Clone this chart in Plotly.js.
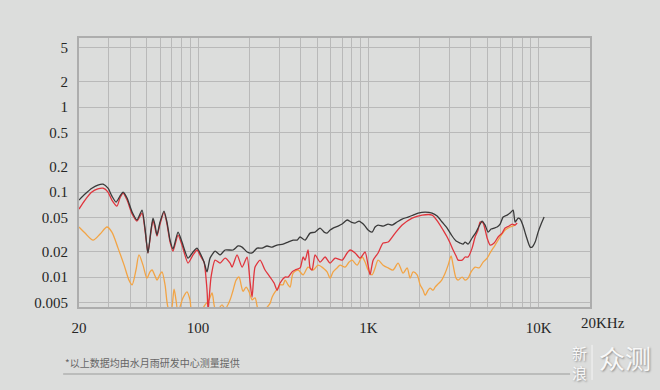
<!DOCTYPE html>
<html>
<head>
<meta charset="utf-8">
<script src="https://cdn.plot.ly/plotly-3.0.1.min.js"></script>
<style>
  html, body { margin: 0; padding: 0; background: #dcdddc; }
  #chart { width: 660px; height: 390px; }
</style>
</head>
<body>
<div id="chart"></div>
<script>
// ---- data (frequency in Hz, level) ----
const blackFreq = [20,21.7,23.8,25.8,27.7,29.6,31.2,33.0,34.8,36.3,38.3,41.0,43.8,46.9,48.8,50.8,52.9,54.4,55.9,57.4,59.8,63.1,65.7,68.5,71.3,76.3,80.5,87.3,93.4,98.6,104.1,108.4,112.9,117.6,125.9,134.6,144.1,160.6,171.8,181.3,194.0,207.5,222.1,237.6,254.2,272.0,291.0,315.6,337.7,361.4,381.5,397.2,424.9,454.6,486.4,520.5,549.5,572.2,595.9,620.6,664.0,701.0,750.0,791.5,835.5,882.0,918.4,956.4,995.9,1051,1095,1140,1220,1306,1378,1474,1578,1711,1830,1958,2153,2366,2532,2709,2899,3101,3273,3455,3597,3697,3849,4064,4289,4467,4651,4844,5045,5254,5472,5698,5934,6180,6523,6793,7075,7269,7570,7778,8100,8433,8903,9147,9526,9919,10330,10757];
const blackVal = [0.0805,0.0947,0.111,0.121,0.124,0.111,0.0897,0.0763,0.0897,0.100,0.0850,0.0582,0.0469,0.0614,0.0377,0.0192,0.0357,0.0494,0.0409,0.0312,0.0444,0.0598,0.0444,0.0272,0.0214,0.0338,0.0258,0.0167,0.0197,0.0219,0.0182,0.0150,0.0115,0.0167,0.0202,0.0182,0.0208,0.0208,0.0232,0.0225,0.0197,0.0192,0.0219,0.0219,0.0232,0.0225,0.0238,0.0244,0.0258,0.0272,0.0272,0.0296,0.0272,0.0329,0.0338,0.0377,0.0338,0.0329,0.0357,0.0377,0.0398,0.0420,0.0469,0.0444,0.0432,0.0456,0.0432,0.0398,0.0357,0.0338,0.0388,0.0409,0.0398,0.0420,0.0409,0.0444,0.0481,0.0508,0.0536,0.0566,0.0582,0.0566,0.0522,0.0444,0.0377,0.0304,0.0265,0.0251,0.0244,0.0258,0.0244,0.0288,0.0338,0.0398,0.0456,0.0409,0.0338,0.0367,0.0377,0.0388,0.0420,0.0508,0.0536,0.0566,0.0614,0.0444,0.0494,0.0481,0.0398,0.0304,0.0225,0.0225,0.0258,0.0338,0.0420,0.0508];

const redFreq = [20,21.7,23.8,25.8,27.7,29.6,31.2,33.4,34.8,36.3,38.3,41.0,43.8,46.9,48.8,50.8,52.9,54.4,55.9,57.4,59.8,63.1,65.7,68.5,71.3,76.3,80.5,87.3,93.4,98.6,104.1,108.4,112.9,114.5,116.0,119.2,125.9,134.6,144.1,154.2,158.4,169.4,181.3,194.0,202.0,207.5,216.1,231.3,247.4,264.7,279.5,291.0,303.0,324.3,337.7,356.5,371.3,397.2,413.7,424.9,442.5,454.6,467.1,486.4,520.5,556.9,595.9,637.6,701.0,750.0,780.9,835.5,894.0,956.4,995.9,1023,1066,1140,1220,1306,1436,1578,1806,2067,2366,2566,2746,2899,3018,3143,3273,3363,3550,3697,3849,4064,4231,4406,4527,4715,4977,5183,5472,5776,6097,6349,6702,6980,7269,7468];
const redVal = [0.0631,0.0805,0.100,0.109,0.111,0.100,0.0805,0.0684,0.0850,0.0973,0.0805,0.0551,0.0456,0.0566,0.0357,0.0192,0.0338,0.0469,0.0377,0.0304,0.0420,0.0582,0.0420,0.0258,0.0202,0.0312,0.0238,0.0146,0.0182,0.0208,0.0172,0.0150,0.0070,0.0040,0.0054,0.0100,0.0158,0.0146,0.0167,0.0146,0.0131,0.0182,0.0131,0.0172,0.0087,0.0058,0.0131,0.0158,0.0121,0.0100,0.0085,0.0070,0.0085,0.0100,0.0100,0.0115,0.0121,0.0128,0.0172,0.0158,0.0208,0.0128,0.0121,0.0182,0.0150,0.0172,0.0146,0.0167,0.0158,0.0192,0.0208,0.0192,0.0167,0.0197,0.0138,0.0106,0.0158,0.0192,0.0251,0.0258,0.0329,0.0409,0.0494,0.0536,0.0536,0.0444,0.0357,0.0296,0.0251,0.0208,0.0177,0.0158,0.0158,0.0172,0.0172,0.0219,0.0296,0.0357,0.0444,0.0432,0.0288,0.0238,0.0251,0.0296,0.0329,0.0377,0.0398,0.0420,0.0409,0.0432];

const orangeFreq = [20,21.7,24.2,26.6,29.2,31.2,33.9,36.8,39.3,41.0,43.2,45.0,47.5,50.1,52.2,53.7,55.9,57.4,59.8,61.4,64.0,66.6,69.4,72.3,74.2,76.3,81.6,86.1,89.7,92.2,102.7,109.9,116.0,120.8,124.2,127.6,138.3,144.1,154.2,160.6,167.2,174.1,178.9,183.8,191.4,199.3,207.5,216.1,225.1,240.8,254.2,264.7,272.0,283.3,294.9,303.0,315.6,324.3,337.7,347.0,361.4,386.7,413.7,442.5,473.5,506.6,542.0,572.2,595.9,620.6,655.1,682.3,730.0,770.5,802.3,858.4,918.4,956.4,995.9,1051,1095,1140,1220,1306,1396,1494,1599,1688,1758,1830,1932,2012,2095,2153,2242,2303,2398,2464,2566,2673,2821,2938,3059,3143,3273,3363,3550,3697,3849,4009,4231,4467,4715,4977,5183,5546,5934,6349,6793,7269];
const orangeVal = [0.0388,0.0329,0.0272,0.0321,0.0388,0.0338,0.0219,0.0138,0.0092,0.0081,0.0121,0.0182,0.0138,0.0097,0.0115,0.0121,0.0103,0.0092,0.0108,0.0115,0.0081,0.0044,0.0039,0.0072,0.0054,0.0039,0.0057,0.0067,0.0054,0.0039,0.0039,0.0047,0.0054,0.0065,0.0047,0.0039,0.0047,0.0042,0.0054,0.0070,0.0092,0.0100,0.0081,0.0068,0.0076,0.0067,0.0054,0.0057,0.0042,0.0039,0.0044,0.0049,0.0058,0.0067,0.0074,0.0081,0.0081,0.0092,0.0081,0.0076,0.0111,0.0121,0.0106,0.0131,0.0121,0.0138,0.0128,0.0115,0.0097,0.0115,0.0128,0.0138,0.0131,0.0150,0.0158,0.0138,0.0172,0.0150,0.0121,0.0106,0.0128,0.0158,0.0138,0.0128,0.0121,0.0146,0.0111,0.0128,0.0097,0.0115,0.0106,0.0081,0.0070,0.0061,0.0070,0.0074,0.0070,0.0076,0.0083,0.0090,0.0111,0.0138,0.0177,0.0138,0.0097,0.0092,0.0100,0.0092,0.0097,0.0115,0.0131,0.0128,0.0150,0.0167,0.0192,0.0238,0.0296,0.0357,0.0388,0.0409];

const xGridVals = [20,30,40,50,60,70,80,90,100,200,300,400,500,600,700,800,900,1000,2000,3000,4000,5000,6000,7000,8000,9000,10000,20000];
const xTickText = ['20','','','','','','','','100','','','','','','','','','1K','','','','','','','','','10K',''];
const yTickVals = [0.005,0.01,0.02,0.05,0.1,0.2,0.5,1,2,5];
const yTickText = ['0.005','0.01','0.02','0.05','0.1','0.2','0.5','1','2','5'];
const footnote = '*以上数据均由水月雨研发中心测量提供';

const lw = 1.3;
const traces = [
  {x: orangeFreq, y: orangeVal, mode: 'lines', line: {color: '#f2a445', width: lw, shape: 'spline', smoothing: 0.8}},
  {x: redFreq, y: redVal, mode: 'lines', line: {color: '#e0353d', width: lw, shape: 'spline', smoothing: 0.6}},
  {x: blackFreq, y: blackVal, mode: 'lines', line: {color: '#3a3a3a', width: lw, shape: 'spline', smoothing: 0.6}}
];

const tickFont = {family: '"Liberation Serif", "DejaVu Serif", serif', size: 15, color: '#262626'};
const wmFont = (s) => ({family: '"Noto Sans CJK SC", sans-serif', size: s, color: '#f8f8f8', shadow: '1px 1px 2px #8c8c8c'});

const layout = {
  width: 660, height: 390,
  margin: {l: 79, r: 70, t: 38, b: 83},
  paper_bgcolor: '#dcdddc',
  plot_bgcolor: '#dcdddc',
  showlegend: false,
  xaxis: {
    type: 'log',
    range: [Math.log10(20), Math.log10(20000)],
    tickmode: 'array', tickvals: xGridVals, ticktext: xTickText,
    showgrid: true, gridcolor: '#b9b9b9', gridwidth: 1,
    showline: true, mirror: true, linecolor: '#adadad', linewidth: 2,
    zeroline: false, ticks: '', ticklabelstandoff: 6,
    tickfont: tickFont
  },
  yaxis: {
    type: 'log',
    range: [Math.log10(0.00444), Math.log10(6.5)],
    tickmode: 'array', tickvals: yTickVals, ticktext: yTickText,
    showgrid: true, gridcolor: '#b9b9b9', gridwidth: 1,
    showline: true, mirror: true, linecolor: '#adadad', linewidth: 2,
    zeroline: false, ticks: '', ticklabelstandoff: 6,
    tickfont: tickFont
  },
  annotations: [
    {text: '20KHz', xref: 'x', yref: 'paper', x: Math.log10(20000), y: 0,
     xanchor: 'left', yanchor: 'top', xshift: -11, yshift: -6, showarrow: false, font: tickFont},
    {text: footnote, xref: 'paper', yref: 'paper', x: -0.031, y: -0.205,
     xanchor: 'left', yanchor: 'middle', showarrow: false,
     font: {family: '"Noto Sans CJK SC", sans-serif', size: 10, color: '#666666'}},
    {text: '新', xref: 'paper', yref: 'paper', x: 0.980, y: -0.171,
     xanchor: 'center', yanchor: 'middle', showarrow: false, font: wmFont(15)},
    {text: '浪', xref: 'paper', yref: 'paper', x: 0.980, y: -0.242,
     xanchor: 'center', yanchor: 'middle', showarrow: false, font: wmFont(15)},
    {text: '众测', xref: 'paper', yref: 'paper', x: 1.014, y: -0.186,
     xanchor: 'left', yanchor: 'middle', showarrow: false, font: wmFont(26)}
  ],
  shapes: [
    {type: 'line', xref: 'paper', yref: 'paper', x0: -0.031, x1: 0.961, y0: -0.249, y1: -0.249,
     line: {color: '#b0b0b0', width: 1.5}},
    {type: 'line', xref: 'paper', yref: 'paper', x0: 1.004, x1: 1.004, y0: -0.141, y1: -0.271,
     line: {color: '#f4f4f4', width: 1}}
  ]
};

Plotly.newPlot('chart', traces, layout, {staticPlot: true, displayModeBar: false});
</script>
</body>
</html>
